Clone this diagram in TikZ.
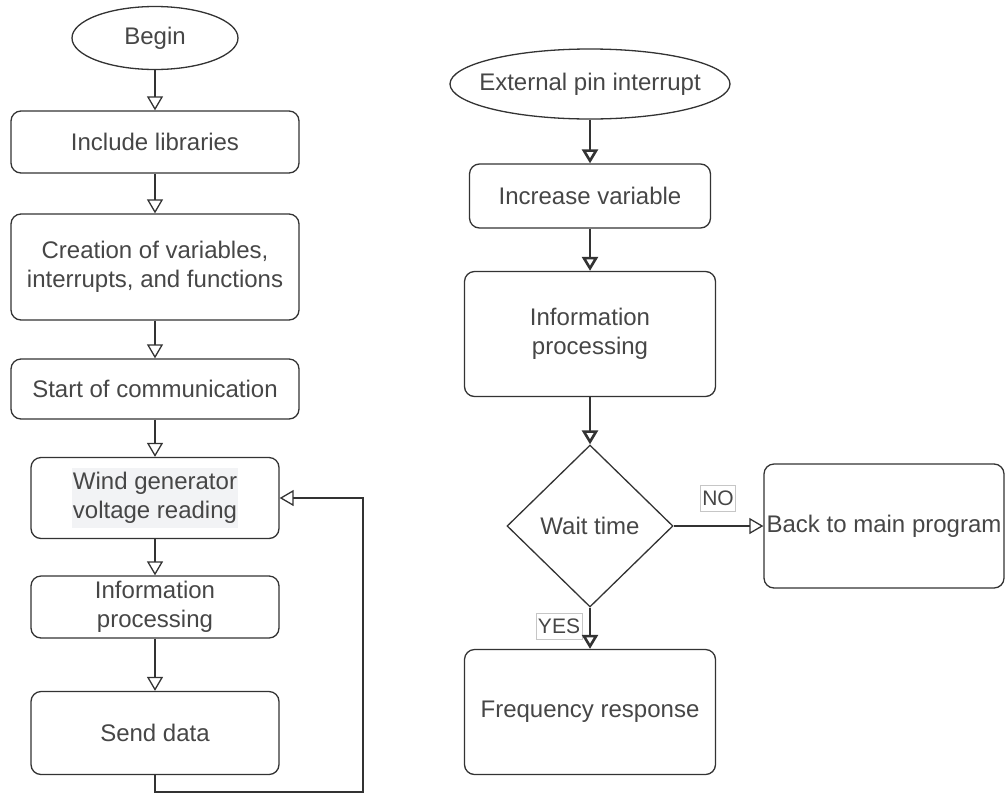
\documentclass[tikz,border=0pt]{standalone}
\usepackage{fontspec}
\setmainfont{Liberation Sans}
\usetikzlibrary{shapes.geometric,arrows.meta}
\definecolor{linegray}{HTML}{333333}
\definecolor{txtgray}{HTML}{464646}
\definecolor{hilite}{HTML}{F2F3F5}
\tikzset{
  box/.style={draw=linegray, line width=0.65pt, rounded corners=5pt, align=center,
    inner sep=2pt, text=txtgray, font=\fontsize{12}{14.5}\selectfont},
  startend/.style={box, ellipse, sharp corners},
  decision/.style={box, diamond, sharp corners},
  tag/.style={draw=gray!45, line width=0.4pt, text=txtgray, inner sep=1pt,
    minimum height=13pt, font=\fontsize{10.5}{12}\selectfont},
  flow/.style={draw=linegray, line width=0.65pt, -{Triangle[open,width=8pt,length=7pt]}},
  thickflow/.style={flow, line width=1.3pt},
}
\begin{document}
\begin{tikzpicture}[x=0.5pt,y=-0.5pt]
  \useasboundingbox (0,0) rectangle (1005,793);

  % main program
  \node[startend, minimum width=83pt, minimum height=31.5pt] (begin) at (155,38) {Begin};
  \node[box, minimum width=144pt, minimum height=31pt] (incl) at (155,142) {Include libraries};
  \node[box, minimum width=144pt, minimum height=53pt] (creat) at (155,267) {Creation of variables,\\interrupts, and functions};
  \node[box, minimum width=144pt, minimum height=30pt] (start) at (155,389) {Start of communication};
  \node[box, minimum width=124pt, minimum height=40.5pt] (wind) at (155,498)
    {\setlength{\fboxsep}{0.5pt}\colorbox{hilite}{\begin{tabular}{@{}c@{}}Wind generator\\voltage reading\end{tabular}}};
  \node[box, minimum width=124pt, minimum height=31pt] (info) at (155,607) {Information\\processing};
  \node[box, minimum width=124pt, minimum height=41.5pt] (send) at (155,733) {Send data};
  \coordinate (loopc) at (363,792);

  \draw[flow] (begin) -- (incl);
  \draw[flow] (incl) -- (creat);
  \draw[flow] (creat) -- (start);
  \draw[flow] (start) -- (wind);
  \draw[flow] (wind) -- (info);
  \draw[flow] (info) -- (send);
  \draw[flow] (send.south) |- (loopc) |- (wind.east);

  % interrupt routine
  \node[startend, minimum width=140pt, minimum height=35pt] (ext) at (590,84) {\makebox[0pt]{External pin interrupt}};
  \node[box, minimum width=120.5pt, minimum height=32pt] (incr) at (590,196) {Increase variable};
  \node[box, minimum width=125.5pt, minimum height=62.5pt] (info2) at (590,334) {Information\\processing};
  \node[decision, minimum width=83pt, minimum height=81pt] (wait) at (590,526) {Wait time};
  \node[box, minimum width=120pt, minimum height=62pt] (back) at (884,526) {\makebox[0pt]{Back to main program}};
  \node[box, minimum width=125.5pt, minimum height=62.5pt] (freq) at (590,712) {Frequency response};
  \node[tag] (no) at (718,498) {NO};
  \node[tag] (yes) at (559,626) {YES};

  \draw[thickflow] (ext) -- (incr);
  \draw[thickflow] (incr) -- (info2);
  \draw[thickflow] (info2) -- (wait);
  \draw[thickflow] (wait) -- (freq);
  \draw[flow] (wait) -- (back);
\end{tikzpicture}
\end{document}
